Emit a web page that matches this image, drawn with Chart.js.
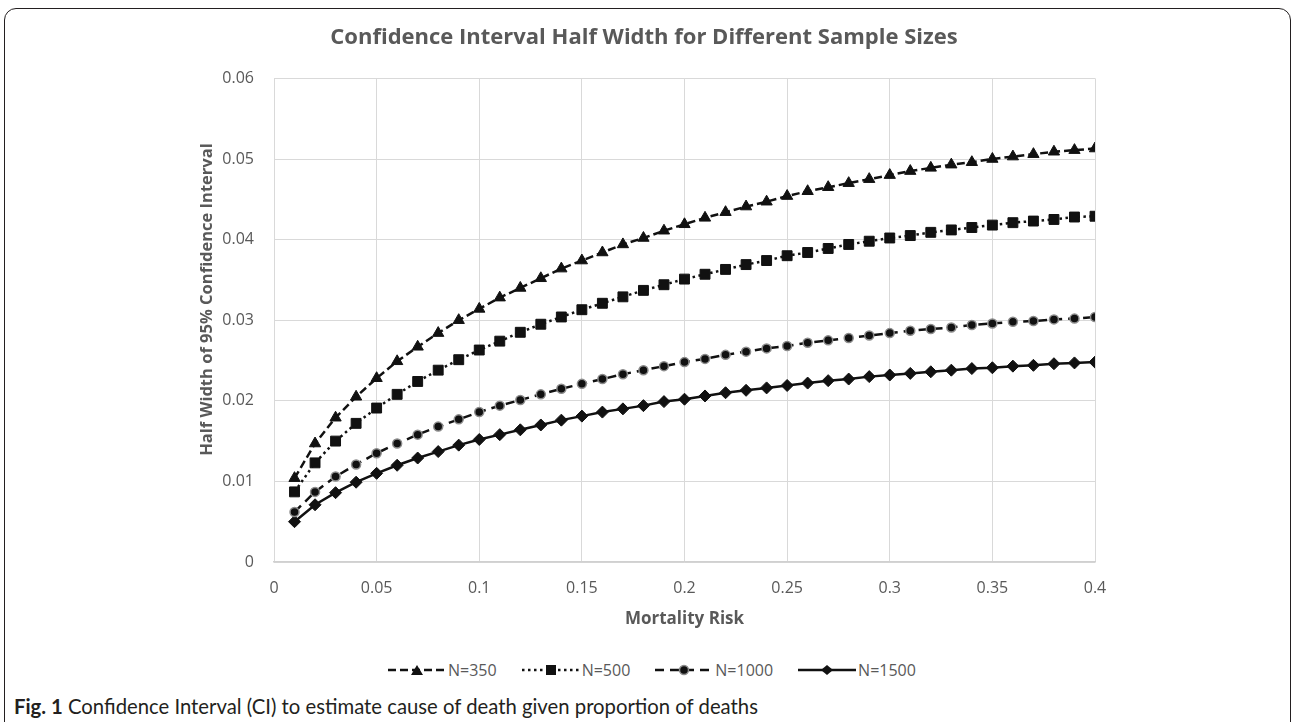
<!DOCTYPE html>
<html>
<head>
<meta charset="utf-8">
<script src="https://cdn.jsdelivr.net/npm/chart.js@4.4.1/dist/chart.umd.min.js"></script>
<style>
  html, body { margin: 0; padding: 0; background: #fff; }
  body { width: 1296px; height: 722px; position: relative; overflow: hidden; font-family: "Open Sans", sans-serif; }
  #frame { position: absolute; left: 4px; top: 8px; width: 1287px; height: 760px; border: 1.5px solid #231f20; border-radius: 12px; box-sizing: border-box; }
  #wrap { position: absolute; left: 0; top: 0; width: 1296px; height: 640px; }
  #legend { position: absolute; left: 388px; top: 659px; height: 22px; display: flex; gap: 25px; color: #595959; font-size: 16px; line-height: 22px; }
  #legend .item { display: flex; align-items: center; gap: 2px; }
  #legend svg { display: block; }
  #caption { position: absolute; left: 14px; top: 694px; font-family: Lato, sans-serif; font-size: 20.3px; line-height: 24px; color: #231f20; }
</style>
</head>
<body>
<div id="frame"></div>
<div id="wrap"><canvas id="grafica"></canvas></div>
<div id="legend"></div>
<div id="caption"><b>Fig. 1</b> Confidence Interval (CI) to estimate cause of death given proportion of deaths</div>
<script>
// mortality risk (x)
const riesgo = [0.01, 0.02, 0.03, 0.04, 0.05, 0.06, 0.07, 0.08, 0.09, 0.10,
    0.11, 0.12, 0.13, 0.14, 0.15, 0.16, 0.17, 0.18, 0.19, 0.20,
    0.21, 0.22, 0.23, 0.24, 0.25, 0.26, 0.27, 0.28, 0.29, 0.30,
    0.31, 0.32, 0.33, 0.34, 0.35, 0.36, 0.37, 0.38, 0.39, 0.40]

// half width for each sample size
const n350 = [0.0104, 0.0147, 0.0179, 0.0205, 0.0228, 0.0249, 0.0267, 0.0284, 0.0300, 0.0314,
    0.0328, 0.0340, 0.0352, 0.0364, 0.0374, 0.0384, 0.0394, 0.0402, 0.0411, 0.0419,
    0.0427, 0.0434, 0.0441, 0.0447, 0.0454, 0.0460, 0.0465, 0.0470, 0.0475, 0.0480,
    0.0485, 0.0489, 0.0493, 0.0496, 0.0500, 0.0503, 0.0506, 0.0509, 0.0511, 0.0513]
const n500 = [0.0087, 0.0123, 0.0150, 0.0172, 0.0191, 0.0208, 0.0224, 0.0238, 0.0251, 0.0263,
    0.0274, 0.0285, 0.0295, 0.0304, 0.0313, 0.0321, 0.0329, 0.0337, 0.0344, 0.0351,
    0.0357, 0.0363, 0.0369, 0.0374, 0.0380, 0.0384, 0.0389, 0.0394, 0.0398, 0.0402,
    0.0405, 0.0409, 0.0412, 0.0415, 0.0418, 0.0421, 0.0423, 0.0425, 0.0428, 0.0429]
const n1000 = [0.0062, 0.0087, 0.0106, 0.0121, 0.0135, 0.0147, 0.0158, 0.0168, 0.0177, 0.0186,
    0.0194, 0.0201, 0.0208, 0.0215, 0.0221, 0.0227, 0.0233, 0.0238, 0.0243, 0.0248,
    0.0252, 0.0257, 0.0261, 0.0265, 0.0268, 0.0272, 0.0275, 0.0278, 0.0281, 0.0284,
    0.0287, 0.0289, 0.0291, 0.0294, 0.0296, 0.0298, 0.0299, 0.0301, 0.0302, 0.0304]
const n1500 = [0.0050, 0.0071, 0.0086, 0.0099, 0.0110, 0.0120, 0.0129, 0.0137, 0.0145, 0.0152,
    0.0158, 0.0164, 0.0170, 0.0176, 0.0181, 0.0186, 0.0190, 0.0194, 0.0199, 0.0202,
    0.0206, 0.0210, 0.0213, 0.0216, 0.0219, 0.0222, 0.0225, 0.0227, 0.0230, 0.0232,
    0.0234, 0.0236, 0.0238, 0.0240, 0.0241, 0.0243, 0.0244, 0.0246, 0.0247, 0.0248]

const series_labels = ['N=350', 'N=500', 'N=1000', 'N=1500']
const x_ticks = ['0', '0.05', '0.1', '0.15', '0.2', '0.25', '0.3', '0.35', '0.4']
const y_ticks = ['0', '0.01', '0.02', '0.03', '0.04', '0.05', '0.06']

const gris = '#595959'
const negro = '#111111'

// line + marker style for each series
const estilos = [
    { dash: [8, 4], punto: 'triangle', radio: 6.5, borde: negro, bw: 1 },
    { dash: [2.5, 3.5], punto: 'rect', radio: 7, borde: negro, bw: 1 },
    { dash: [9, 6], punto: 'circle', radio: 4.5, borde: '#8c8c8c', bw: 1.5 },
    { dash: [], punto: 'rectRot', radio: 6, borde: negro, bw: 1 }
]

const toXY = arr => arr.map((v, i) => ({ x: riesgo[i], y: v }))
const valores = [n350, n500, n1000, n1500]

const datasets = valores.map((serie, i) => ({
    label: series_labels[i],
    data: toXY(serie),
    borderColor: negro,
    borderWidth: 2.5,
    borderDash: estilos[i].dash,
    pointStyle: estilos[i].punto,
    pointRadius: estilos[i].radio,
    pointBackgroundColor: negro,
    pointBorderColor: estilos[i].borde,
    pointBorderWidth: estilos[i].bw,
    tension: 0
}))

const ctx = document.getElementById('grafica').getContext('2d')

new Chart(ctx, {
    type: 'line',
    data: { datasets: datasets },
    options: {
        responsive: true,
        maintainAspectRatio: false,
        animation: false,
        layout: { padding: { left: 193, right: 201, top: 0, bottom: 11 } },
        scales: {
            x: {
                type: 'linear',
                min: 0,
                max: 0.4,
                afterFit: (scale) => { scale.height = 67 },
                ticks: {
                    stepSize: 0.05,
                    color: gris,
                    font: { family: 'Open Sans', size: 16 },
                    padding: 17,
                    callback: (v, i) => x_ticks[i]
                },
                grid: { color: '#d9d9d9', drawTicks: false },
                border: { color: '#d0d0d0', width: 1.5 },
                title: {
                    display: true,
                    text: 'Mortality Risk',
                    color: gris,
                    font: { family: 'Open Sans', size: 17, weight: 'bold' },
                    padding: { top: 0, bottom: 0 }
                }
            },
            y: {
                min: 0,
                max: 0.06,
                afterFit: (scale) => { scale.width = 81 },
                ticks: {
                    stepSize: 0.01,
                    color: gris,
                    font: { family: 'Open Sans', size: 16 },
                    padding: 20,
                    callback: (v, i) => y_ticks[i]
                },
                grid: { color: '#d9d9d9', drawTicks: false },
                border: { display: false },
                title: {
                    display: true,
                    // espacios al inicio: el titulo queda un poco por encima del centro
                    text: '\u2003\u2003\u2002Half Width of 95% Confidence Interval',
                    color: gris,
                    font: { family: 'Open Sans', size: 16.5, weight: 'bold' },
                    padding: { top: 4, bottom: 4 }
                }
            }
        },
        plugins: {
            legend: { display: false }, // leyenda en html
            tooltip: { enabled: false },
            title: {
                display: true,
                text: 'Confidence Interval Half Width for Different Sample Sizes',
                color: gris,
                font: { family: 'Open Sans', size: 22, weight: 'bold' },
                padding: { top: 25, bottom: 27 }
            }
        }
    }
})

// leyenda: linea + marcador en svg
const marcas = {
    triangle: '<polygon points="29,4 35,14 23,14" fill="#111"/>',
    rect: '<rect x="24" y="4" width="10" height="10" fill="#111"/>',
    circle: '<circle cx="29" cy="9" r="4.5" fill="#111" stroke="#8c8c8c" stroke-width="1.5"/>',
    rectRot: '<polygon points="29,4 35,9 29,14 23,9" fill="#111"/>'
}
const legend = document.getElementById('legend')
series_labels.forEach((lab, i) => {
    const e = estilos[i]
    const dash = e.dash.length ? `stroke-dasharray="${e.dash.join(',')}"` : ''
    const item = document.createElement('div')
    item.className = 'item'
    item.innerHTML = `<svg width="58" height="18"><line x1="0" y1="9" x2="58" y2="9" stroke="#111" stroke-width="2.5" ${dash}/>${marcas[e.punto]}</svg><span>${lab}</span>`
    legend.appendChild(item)
})
</script>
</body>
</html>
